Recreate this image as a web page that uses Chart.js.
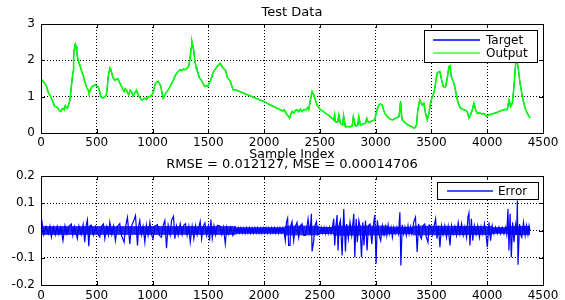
<!DOCTYPE html>
<html>
<head>
<meta charset="utf-8">
<script src="https://cdn.jsdelivr.net/npm/chart.js@4.4.0/dist/chart.umd.min.js"></script>
<style>
  html, body { margin: 0; padding: 0; background: #fff; }
  #wrap { position: relative; width: 565px; height: 300px; overflow: hidden; }
  canvas { position: absolute; left: 0; }
  #topChart { top: 0; }
  #errChart { top: 150px; }
</style>
</head>
<body>
<div id="wrap">
  <canvas id="topChart" width="565" height="165"></canvas>
  <canvas id="errChart" width="565" height="150"></canvas>
</div>
<script>
// readings: [sample index, value]
const outputPts = [
  [0,1.48],[9,1.46],[20,1.42],[33,1.37],[48,1.30],[63,1.14],[78,1.05],[93,0.96],[108,0.85],[123,0.73],
  [138,0.72],[153,0.68],[165,0.62],[177,0.59],[187,0.66],[197,0.68],[208,0.64],[218,0.75],[228,0.70],[236,0.68],
  [247,0.78],[257,0.87],[265,1.05],[272,1.28],[280,1.50],[287,1.69],[292,2.05],[296,2.29],[302,2.40],[308,2.45],
  [314,2.38],[320,2.29],[326,2.10],[332,2.02],[344,1.90],[356,1.79],[366,1.68],[377,1.60],[389,1.45],[401,1.33],
  [410,1.25],[422,1.19],[430,1.10],[437,1.14],[447,1.22],[458,1.28],[470,1.30],[482,1.33],[497,1.30],[512,1.28],
  [525,1.15],[536,1.00],[547,0.98],[557,0.96],[572,1.00],[586,1.05],[594,1.25],[601,1.51],[610,1.70],[617,1.79],
  [624,1.76],[631,1.69],[640,1.58],[649,1.51],[662,1.45],[676,1.48],[688,1.50],[700,1.42],[710,1.35],[721,1.28],
  [733,1.20],[745,1.14],[755,1.22],[766,1.19],[777,1.10],[787,1.05],[799,1.18],[811,1.14],[826,1.02],[841,1.10],
  [856,1.18],[871,1.05],[886,0.98],[900,0.91],[915,0.93],[931,0.96],[946,0.92],[961,1.00],[976,1.00],[990,1.03],
  [1005,1.10],[1015,1.25],[1026,1.37],[1038,1.40],[1050,1.42],[1062,1.36],[1075,1.28],[1085,1.10],[1095,0.96],[1110,1.05],
  [1128,1.14],[1143,1.20],[1158,1.28],[1173,1.38],[1188,1.46],[1203,1.58],[1218,1.65],[1233,1.70],[1248,1.74],[1263,1.72],
  [1278,1.76],[1293,1.74],[1308,1.78],[1323,1.83],[1331,1.95],[1338,2.11],[1346,2.35],[1353,2.52],[1360,2.42],[1368,2.29],
  [1375,2.10],[1383,1.92],[1390,1.80],[1398,1.74],[1410,1.62],[1421,1.51],[1432,1.48],[1443,1.42],[1455,1.35],[1466,1.28],
  [1480,1.30],[1493,1.28],[1505,1.35],[1517,1.42],[1532,1.55],[1547,1.69],[1562,1.75],[1577,1.83],[1592,1.87],[1607,1.92],
  [1619,1.85],[1631,1.79],[1642,1.76],[1652,1.74],[1663,1.62],[1673,1.51],[1685,1.48],[1697,1.42],[1710,1.30],[1721,1.19],
  [1742,1.19],[1996,0.87],[2056,0.77],[2146,0.64],[2166,0.60],[2181,0.64],[2195,0.55],[2206,0.50],[2220,0.45],[2229,0.41],
  [2240,0.52],[2250,0.59],[2265,0.55],[2280,0.62],[2295,0.64],[2310,0.58],[2325,0.66],[2340,0.59],[2355,0.64],[2376,0.64],
  [2390,0.70],[2400,0.64],[2415,0.91],[2430,1.14],[2445,1.05],[2460,0.90],[2475,0.77],[2490,0.70],[2505,0.64],[2528,0.60],
  [2550,0.54],[2572,0.50],[2594,0.45],[2610,0.40],[2625,0.35],[2632,0.50],[2640,0.31],[2660,0.30],[2670,0.50],[2684,0.27],
  [2705,0.22],[2712,0.48],[2729,0.17],[2750,0.18],[2774,0.17],[2790,0.20],[2800,0.45],[2819,0.19],[2840,0.21],[2848,0.45],
  [2864,0.22],[2885,0.25],[2909,0.27],[2920,0.40],[2935,0.29],[2953,0.31],[2970,0.34],[2992,0.36],[3005,0.55],[3013,0.64],
  [3028,0.77],[3043,0.80],[3058,0.77],[3070,0.65],[3082,0.54],[3100,0.47],[3118,0.41],[3133,0.38],[3148,0.36],[3163,0.38],
  [3178,0.41],[3195,0.43],[3208,0.45],[3216,0.60],[3223,0.87],[3230,0.55],[3238,0.36],[3253,0.32],[3268,0.27],[3290,0.22],
  [3313,0.19],[3328,0.17],[3343,0.13],[3356,0.16],[3366,0.22],[3378,0.64],[3396,0.91],[3407,0.84],[3417,0.77],[3432,0.82],
  [3447,0.54],[3462,0.36],[3477,0.54],[3492,0.82],[3507,1.00],[3522,1.10],[3537,1.37],[3552,1.65],[3564,1.68],[3576,1.69],
  [3591,1.46],[3606,1.28],[3618,1.26],[3627,1.28],[3642,1.51],[3657,1.83],[3666,1.85],[3678,1.56],[3690,1.45],[3702,1.37],
  [3717,1.15],[3732,0.91],[3746,0.78],[3761,0.68],[3776,0.66],[3791,0.64],[3806,0.62],[3821,0.59],[3836,0.41],[3851,0.50],
  [3866,0.64],[3881,0.82],[3896,0.64],[3911,0.54],[3926,0.56],[3941,0.54],[3956,0.52],[3971,0.54],[3983,0.50],[3995,0.45],
  [4016,0.50],[4038,0.52],[4060,0.54],[4083,0.56],[4105,0.59],[4128,0.62],[4150,0.64],[4165,0.65],[4180,0.64],[4195,0.91],
  [4210,0.73],[4225,0.82],[4240,1.28],[4255,1.92],[4264,2.02],[4276,1.83],[4285,1.60],[4294,1.37],[4305,1.18],[4315,1.00],
  [4326,0.85],[4336,0.73],[4348,0.62],[4360,0.54],[4372,0.47],[4384,0.41]
];
// the blue target sits under the green output almost everywhere
const targetPts = outputPts;

// spikes of the error trace
const errorPts = [
  [0,0.012],[9,0.030],[25,-0.015],[45,0.014],[65,-0.012],[80,0.016],[93,-0.024],[110,0.013],[128,-0.016],[145,0.015],
  [160,-0.014],[178,0.012],[197,-0.037],[215,0.018],[232,-0.013],[250,0.015],[272,0.024],[285,-0.018],[300,0.014],[326,-0.030],
  [340,0.017],[360,-0.015],[378,0.022],[392,-0.043],[405,0.020],[416,0.040],[428,-0.058],[440,0.018],[452,0.019],[470,-0.016],
  [490,0.015],[510,-0.014],[527,-0.024],[545,0.017],[560,0.024],[572,-0.030],[590,0.014],[605,-0.017],[617,0.030],[635,-0.015],
  [650,0.016],[667,-0.037],[685,0.015],[706,0.025],[720,-0.016],[745,-0.043],[760,0.018],[775,0.048],[796,-0.049],[810,0.016],
  [826,0.030],[847,0.055],[865,-0.055],[876,0.018],[886,0.037],[900,-0.016],[915,0.015],[931,-0.043],[945,0.020],[960,-0.018],
  [976,0.030],[990,-0.015],[1005,-0.030],[1020,0.016],[1044,0.021],[1060,-0.017],[1080,-0.025],[1095,0.018],[1110,0.037],[1125,-0.065],
  [1140,0.020],[1158,-0.016],[1170,0.037],[1188,0.052],[1200,-0.030],[1215,0.016],[1230,-0.018],[1248,0.025],[1265,-0.015],[1280,0.019],
  [1295,0.025],[1310,-0.018],[1325,0.015],[1338,-0.043],[1355,0.016],[1370,-0.030],[1385,0.018],[1400,-0.016],[1427,0.033],[1440,-0.030],
  [1455,0.016],[1470,0.028],[1485,-0.018],[1500,0.015],[1511,-0.037],[1523,0.040],[1535,-0.028],[1550,0.017],[1565,-0.016],[1580,0.019],
  [1600,0.018],[1620,-0.015],[1635,0.012],[1652,-0.049],[1665,0.012],[1680,-0.014],[1700,0.012],[1720,-0.018],[1742,0.011],
  [1755,-0.010],[1768,0.010],[1780,-0.009],[1792,0.010],[1805,-0.010],[1818,0.009],[1830,-0.010],[1842,0.010],[1855,-0.009],[1868,0.010],
  [1880,-0.010],[1892,0.009],[1905,-0.010],[1918,0.010],[1930,-0.009],[1942,0.010],[1955,-0.010],[1968,0.009],[1980,-0.010],[1992,0.010],
  [2005,-0.009],[2018,0.010],[2030,-0.010],[2042,0.009],[2055,-0.010],[2068,0.010],[2080,-0.009],[2092,0.010],[2105,-0.010],[2118,0.009],
  [2130,-0.010],[2142,0.010],[2155,-0.009],[2168,0.010],[2180,-0.010],
  [2190,-0.037],[2200,0.030],[2211,0.045],[2220,-0.055],[2232,-0.055],[2240,0.020],[2250,0.033],[2265,-0.037],[2280,0.015],[2295,0.030],
  [2310,-0.025],[2325,0.017],[2340,0.024],[2355,-0.018],[2370,-0.018],[2385,0.016],[2394,0.043],[2410,-0.015],[2424,0.061],[2430,-0.077],
  [2445,-0.037],[2455,0.016],[2469,0.033],[2480,-0.015],[2499,-0.012],[2512,0.012],[2525,-0.010],[2538,0.012],[2550,-0.012],[2562,0.010],
  [2575,-0.012],[2588,0.012],[2600,-0.011],[2612,0.012],[2624,0.043],[2633,-0.055],[2644,0.016],[2654,0.057],[2663,-0.073],[2672,0.018],
  [2684,0.037],[2699,-0.092],[2714,0.079],[2729,-0.077],[2740,0.024],[2755,-0.030],[2770,0.030],[2785,-0.018],[2804,0.061],[2813,-0.098],
  [2825,0.043],[2836,-0.043],[2849,0.037],[2860,0.015],[2873,-0.098],[2885,0.030],[2895,-0.055],[2909,0.037],[2923,-0.073],[2935,0.018],
  [2950,0.024],[2965,-0.049],[2980,0.020],[2992,0.057],[3004,-0.122],[3015,0.037],[3030,-0.015],[3045,-0.037],[3060,0.018],[3075,-0.016],
  [3090,0.015],[3100,-0.018],[3112,0.021],[3125,-0.012],[3138,0.012],[3150,-0.025],[3162,0.012],[3175,-0.011],[3190,0.012],[3205,-0.012],
  [3217,0.067],[3226,-0.128],[3238,0.021],[3250,-0.012],[3262,0.012],[3275,-0.018],[3290,0.018],[3300,-0.012],[3312,0.014],[3325,-0.012],
  [3340,0.030],[3357,0.049],[3372,-0.079],[3385,0.025],[3395,-0.015],[3410,-0.030],[3425,0.018],[3440,0.024],[3455,-0.025],[3469,-0.043],
  [3480,0.020],[3495,0.015],[3510,-0.015],[3525,0.018],[3537,0.043],[3550,-0.030],[3562,0.018],[3576,-0.061],[3590,0.018],[3605,-0.015],
  [3620,0.018],[3635,-0.025],[3650,0.015],[3666,-0.055],[3680,0.018],[3695,-0.012],[3710,0.015],[3725,-0.018],[3740,0.030],[3755,-0.012],
  [3770,0.025],[3785,-0.018],[3800,0.014],[3815,-0.025],[3827,0.049],[3836,0.065],[3845,-0.055],[3858,0.043],[3870,-0.037],[3885,0.018],
  [3900,-0.015],[3915,0.018],[3930,-0.025],[3945,0.015],[3960,-0.012],[3975,0.025],[3990,-0.018],[4001,-0.061],[4016,0.030],[4030,-0.037],
  [4045,0.018],[4060,-0.012],[4075,0.012],[4090,-0.011],[4105,0.012],[4120,-0.012],[4135,0.011],[4150,-0.012],[4165,0.012],[4175,-0.014],
  [4186,0.079],[4195,-0.073],[4205,0.061],[4216,-0.098],[4228,0.030],[4240,-0.043],[4255,0.020],[4264,-0.015],[4270,0.110],[4276,-0.126],
  [4290,0.024],[4300,-0.015],[4310,-0.025],[4325,0.030],[4340,-0.018],[4352,0.018],[4365,-0.015],[4375,0.018],[4384,0.000]
];
// the solid core of the error trace (too dense to follow sample by sample)
const bandIdx   = [0, 1740, 1750, 2180, 2190, 2490, 2500, 2615, 2625, 3100, 3110, 3330, 3340, 4040, 4050, 4180, 4190, 4384];
const bandUpper = [0.014, 0.014, 0.010, 0.010, 0.016, 0.016, 0.011, 0.011, 0.016, 0.016, 0.012, 0.012, 0.016, 0.014, 0.010, 0.010, 0.015, 0.015];
const bandLower = [-0.014, -0.014, -0.010, -0.010, -0.016, -0.016, -0.011, -0.011, -0.017, -0.016, -0.012, -0.012, -0.016, -0.014, -0.010, -0.010, -0.015, -0.015];

const topTitle = 'Test Data';
const xLabel = 'Sample Index';
const errTitle = 'RMSE = 0.012127, MSE = 0.00014706';
const xTicks = [0, 500, 1000, 1500, 2000, 2500, 3000, 3500, 4000, 4500];
const topYTicks = [0, 1, 2, 3];
const errYTicks = [-0.2, -0.1, 0, 0.1, 0.2];

const FONT = 'DejaVu Sans';
const toXY = pts => pts.map(p => ({ x: p[0], y: p[1] }));
const bandXY = vals => bandIdx.map((x, i) => ({ x, y: vals[i] }));

// axes box with little inward tick marks, like matlab
const framePlugin = {
    id: 'frame',
    afterDatasetsDraw(chart) {
        const { ctx, chartArea: a, scales } = chart;
        ctx.save();
        ctx.strokeStyle = '#000';
        ctx.lineWidth = 1;
        ctx.strokeRect(a.left + 0.5, a.top + 0.5, a.right - a.left, a.bottom - a.top);
        ctx.beginPath();
        scales.x.ticks.forEach(t => {
            const px = Math.round(scales.x.getPixelForValue(t.value)) + 0.5;
            ctx.moveTo(px, a.bottom); ctx.lineTo(px, a.bottom - 4);
            ctx.moveTo(px, a.top); ctx.lineTo(px, a.top + 4);
        });
        scales.y.ticks.forEach(t => {
            const py = Math.round(scales.y.getPixelForValue(t.value)) + 0.5;
            ctx.moveTo(a.left, py); ctx.lineTo(a.left + 4, py);
            ctx.moveTo(a.right, py); ctx.lineTo(a.right - 4, py);
        });
        ctx.stroke();
        ctx.restore();
    }
};

// title centred over the axes, not over the whole canvas
const plotTitle = {
    id: 'plotTitle',
    afterDraw(chart, args, opts) {
        const { ctx, chartArea: a } = chart;
        ctx.save();
        ctx.font = opts.size + 'px ' + FONT;
        ctx.fillStyle = '#000';
        ctx.textAlign = 'center';
        ctx.textBaseline = 'middle';
        ctx.fillText(opts.text, (a.left + a.right) / 2, opts.y);
        ctx.restore();
    }
};

// boxed legend inside the axes
const boxLegend = {
    id: 'boxLegend',
    afterDraw(chart, args, opts) {
        const ctx = chart.ctx;
        const sets = chart.data.datasets.filter(ds => ds.label);
        const pad = 3;
        const rowH = (opts.h - 2 * pad) / sets.length;
        ctx.save();
        ctx.fillStyle = '#fff';
        ctx.fillRect(opts.x, opts.y, opts.w, opts.h);
        ctx.strokeStyle = '#000';
        ctx.lineWidth = 1;
        ctx.strokeRect(opts.x + 0.5, opts.y + 0.5, opts.w, opts.h);
        ctx.font = '12px ' + FONT;
        ctx.textBaseline = 'middle';
        sets.forEach((ds, i) => {
            const cy = Math.round(opts.y + pad + rowH * (i + 0.5));
            ctx.strokeStyle = ds.legendColor || ds.borderColor;
            ctx.lineWidth = 2;
            ctx.beginPath();
            ctx.moveTo(opts.x + opts.lineFrom, cy);
            ctx.lineTo(opts.x + opts.lineTo, cy);
            ctx.stroke();
            ctx.fillStyle = '#000';
            ctx.fillText(ds.label, opts.x + opts.textAt, cy + 0.5);
        });
        ctx.restore();
    }
};

function axisOpts(ticksList, width, height, tickPad, fmt) {
    return {
        type: 'linear',
        min: ticksList[0],
        max: ticksList[ticksList.length - 1],
        afterBuildTicks: s => { s.ticks = ticksList.map(v => ({ value: v })); },
        afterFit: s => {
            if (width) s.width = width;
            if (height) s.height = height;
        },
        grid: { color: '#000', lineWidth: 1, drawTicks: false },
        border: { display: false, dash: [1, 2] },
        ticks: {
            color: '#000',
            padding: tickPad,
            font: { family: FONT, size: 12 },
            callback: fmt
        }
    };
}

const plainNum = v => String(Math.round(v * 10) / 10);

const topX = axisOpts(xTicks, 0, 32, 3, plainNum);
topX.title = { display: true, text: xLabel, color: '#000', font: { family: FONT, size: 12.5 }, padding: { top: 0, bottom: 3 } };

new Chart(document.getElementById('topChart'), {
    type: 'line',
    data: {
        datasets: [{
            label: 'Target',
            data: toXY(targetPts),
            borderColor: '#0000ff',
            legendColor: '#3344ff',
            borderWidth: 1,
            pointRadius: 0,
            order: 1
        }, {
            label: 'Output',
            data: toXY(outputPts),
            borderColor: '#00ff00',
            legendColor: '#66ff66',
            borderWidth: 1.6,
            pointRadius: 0,
            order: 0
        }]
    },
    options: {
        responsive: false,
        animation: false,
        layout: { padding: { left: 0, right: 22, top: 24, bottom: 0 } },
        scales: {
            x: topX,
            y: axisOpts(topYTicks, 41, 0, 6, plainNum)
        },
        plugins: {
            legend: { display: false },
            tooltip: { enabled: false },
            plotTitle: { text: topTitle, size: 13, y: 12.5 },
            boxLegend: { x: 424, y: 30, w: 113, h: 32, lineFrom: 9, lineTo: 56, textAt: 62 }
        }
    },
    plugins: [framePlugin, plotTitle, boxLegend]
});

const errX = axisOpts(xTicks, 0, 15, 4, plainNum);

new Chart(document.getElementById('errChart'), {
    type: 'line',
    data: {
        datasets: [{
            label: 'Error',
            data: toXY(errorPts),
            borderColor: '#0000ff',
            legendColor: '#4455ff',
            borderWidth: 1.2,
            pointRadius: 0
        }, {
            label: '',
            data: bandXY(bandUpper),
            borderColor: 'rgba(0,0,255,0.85)',
            backgroundColor: 'rgba(0,0,255,0.85)',
            borderWidth: 1,
            pointRadius: 0,
            fill: '+1'
        }, {
            label: '',
            data: bandXY(bandLower),
            borderColor: 'rgba(0,0,255,0.85)',
            borderWidth: 1,
            pointRadius: 0,
            fill: false
        }]
    },
    options: {
        responsive: false,
        animation: false,
        layout: { padding: { left: 0, right: 22, top: 26, bottom: 0 } },
        scales: {
            x: errX,
            y: axisOpts(errYTicks, 41, 0, 6, plainNum)
        },
        plugins: {
            legend: { display: false },
            tooltip: { enabled: false },
            plotTitle: { text: errTitle, size: 13, y: 15 },
            boxLegend: { x: 437, y: 32, w: 101, h: 17, lineFrom: 10, lineTo: 56, textAt: 61 }
        }
    },
    plugins: [framePlugin, plotTitle, boxLegend]
});
</script>
</body>
</html>
